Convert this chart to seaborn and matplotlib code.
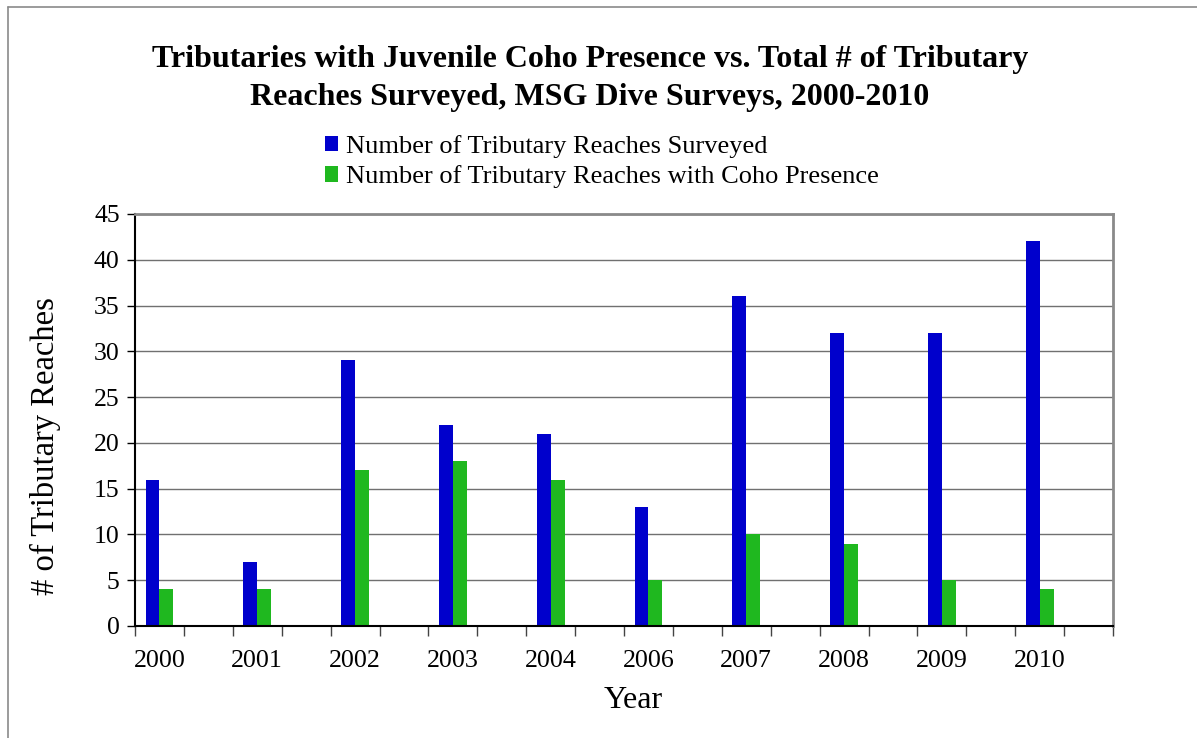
import matplotlib
matplotlib.use("Agg")
import matplotlib.pyplot as plt
from matplotlib.lines import Line2D
from matplotlib.patches import Patch
import seaborn as sns
import pandas as pd
import numpy as np

years = ['2000', '2001', '2002', '2003', '2004', '2006', '2007', '2008', '2009', '2010']
surveyed = [16, 7, 29, 22, 21, 13, 36, 32, 32, 42]
coho = [4, 4, 17, 18, 16, 5, 10, 9, 5, 4]
series = ['Number of Tributary Reaches Surveyed', 'Number of Tributary Reaches with Coho Presence']
colors = ['#0000CC', '#1FB81F']

# the original sheet has a blank category after every year
slots, labels = [], []
for y in years:
    slots += [y, y + '_gap']
    labels += [y, '']

rows = []
for y, s, c in zip(years, surveyed, coho):
    rows.append((y, series[0], s))
    rows.append((y, series[1], c))
df = pd.DataFrame(rows, columns=['slot', 'series', 'value'])

sns.set_style('white')
plt.rcParams['font.family'] = ['Liberation Serif', 'DejaVu Serif']
plt.rcParams['text.color'] = 'black'
plt.rcParams['xtick.color'] = 'black'
plt.rcParams['ytick.color'] = 'black'

W, H = 1197, 738
fig = plt.figure(figsize=(W / 100, H / 100), dpi=100)
ax = fig.add_axes([135 / W, 1 - 626 / H, (1113 - 135) / W, (626 - 214) / H])

sns.barplot(data=df, x='slot', y='value', hue='series', order=slots, hue_order=series,
            palette=colors, width=0.57, saturation=1, linewidth=0, ax=ax, legend=False)

ax.set_xlim(-0.5, len(slots) - 0.5)
ax.set_ylim(0, 45)
ax.set_yticks(np.arange(0, 46, 5))
ax.tick_params(axis='y', labelsize=18.5, length=6, width=1, direction='out', pad=5, left=True)
ax.yaxis.grid(True, color='#707070', lw=1)
ax.set_axisbelow(True)

ax.set_xticks(np.arange(-0.5, len(slots), 1))
ax.set_xticklabels([])
ax.set_xticks(np.arange(len(slots)), minor=True)
ax.set_xticklabels(labels, minor=True)
ax.tick_params(axis='x', which='major', length=7, width=1, direction='out', bottom=True, color='#444444')
ax.tick_params(axis='x', which='minor', length=0, labelsize=18.7, pad=17)
ax.set_xlabel('')
ax.set_ylabel('')

for side in ['left', 'bottom']:
    ax.spines[side].set_color('black')
    ax.spines[side].set_linewidth(1.5)
for side in ['top', 'right']:
    ax.spines[side].set_color('#8a8a8a')
    ax.spines[side].set_linewidth(2)

fig.text(590 / W, 1 - 59 / H, 'Tributaries with Juvenile Coho Presence vs. Total # of Tributary',
         ha='center', va='center', fontsize=23, fontweight='bold')
fig.text(590 / W, 1 - 97 / H, 'Reaches Surveyed, MSG Dive Surveys, 2000-2010',
         ha='center', va='center', fontsize=23, fontweight='bold')

fig.text(633 / W, 1 - 701 / H, 'Year', ha='center', va='center', fontsize=23)
fig.text(45 / W, 1 - 446 / H, '# of Tributary Reaches', ha='center', va='center',
         rotation=90, fontsize=23.5)

handles = [Patch(facecolor=c, edgecolor='none') for c in colors]
fig.legend(handles, series, loc='upper left', bbox_to_anchor=(325 / W, 1 - 135 / H),
           frameon=False, fontsize=19, handlelength=0.5, handleheight=0.5,
           handletextpad=0.3, labelspacing=0.28, borderpad=0, borderaxespad=0)

# outer chart frame, cropped on the right and bottom
fig.add_artist(Line2D([8 / W, 8 / W], [0, 1 - 7 / H], color='#8a8a8a', lw=1.2))
fig.add_artist(Line2D([8 / W, 1], [1 - 7 / H, 1 - 7 / H], color='#8a8a8a', lw=1.2))

fig.savefig('out.png', dpi=100)
